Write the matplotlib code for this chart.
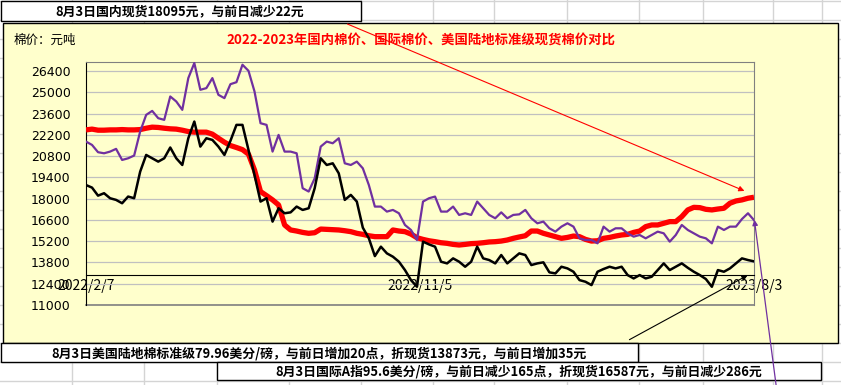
import numpy as np
import matplotlib
matplotlib.use('Agg')
import matplotlib.pyplot as plt
from matplotlib.patches import Rectangle

plt.rcParams['font.family'] = ['Noto Sans CJK SC', 'DejaVu Sans']

# 国际棉价 (A指折现货), 元/吨
intl = [21760, 21540, 21060, 20990, 21100, 21280, 20550, 20660, 20840, 22420,
        23520, 23780, 23300, 23190, 24730, 24400, 23850, 25940, 26930, 25170,
        25280, 25940, 24840,
        24620, 25540, 25670, 26820, 26420, 25060, 22970, 22860, 21100, 22200,
        21100, 21100, 20990, 18690, 18470, 19340, 21430, 21760, 21650, 21980,
        20330, 20220,
        20440, 20000, 18900, 17480, 17480, 17150, 17260, 17040, 16270, 15940,
        15280, 17810, 18030, 18140, 17150, 17150, 17480, 16930, 17040, 16930,
        17810, 17370, 16930,
        16710, 17100, 16710, 16930, 16970, 17260, 16710, 16380, 16490, 16050,
        15830, 16160, 16380, 16160, 15390, 15280, 15280, 15060, 16160, 15830,
        16050, 16050, 15720,
        15500, 15610, 15390, 15610, 15830, 15720, 15170, 15610, 16270, 15940,
        15720, 15500, 15390, 15060, 16160, 15940, 16160, 16160, 16660, 17040,
        16587]

# 国内现货棉价, 元/吨
domestic = [22530, 22580, 22510, 22510, 22530, 22530, 22550, 22530, 22530, 22550,
            22640, 22710, 22690, 22640, 22600, 22580, 22510, 22420, 22380, 22380,
            22380, 22250, 21980,
            21720, 21500, 21370, 21230, 20930, 19890, 18470, 18200, 17920, 17590,
            16270, 15940, 15870, 15780, 15720, 15760, 16000, 15980, 15960, 15940,
            15890, 15830,
            15720, 15650, 15560, 15500, 15500, 15500, 15940, 15870, 15830, 15670,
            15430, 15320, 15230, 15170, 15100, 15060, 14990, 14950, 14990, 15040,
            15060, 15100, 15150,
            15170, 15210, 15280, 15390, 15480, 15560, 15870, 15870, 15720, 15610,
            15500, 15390, 15450, 15540, 15500, 15320, 15210, 15230, 15390, 15450,
            15540, 15610, 15650,
            15780, 15870, 16160, 16270, 16270, 16380, 16490, 16490, 16820, 17260,
            17430, 17410, 17300, 17260, 17320, 17370, 17700, 17850, 17920, 18030,
            18095]

# 美国陆地棉标准级折现货, 元/吨
us = [18900, 18730, 18200, 18360, 18030, 17920, 17700, 18140, 18030, 19780,
      20880, 20660, 20440, 20660, 21370, 20660, 20220, 21980, 23080, 21430,
      21980, 21870, 21430,
      20880, 21810, 22860, 22860, 21210, 19560, 17810, 18030, 16490, 17370,
      17040, 17100, 17480, 17260, 17370, 18690, 20660, 20220, 20330, 19670,
      17920, 18250,
      17810, 16090, 15390, 14220, 14840, 14400, 14180, 13850, 13300, 12640,
      12200, 15170, 14990, 14840, 13850, 13740, 14070, 13850, 13520, 13850,
      14840, 14070, 13960,
      13740, 14290, 13740, 14070, 14400, 14290, 13630, 13740, 13810, 13150,
      13080, 13520, 13410, 13190, 12640, 12530, 12310, 13190, 13370, 13520,
      13410, 13520, 12970,
      12750, 12970, 12750, 12860, 13300, 13740, 13300, 13520, 13740, 13450,
      13190, 12970, 12710, 12200, 13300, 13190, 13410, 13740, 14070, 13960,
      13873]

xlabels = ['2022/2/7', '2022/11/5', '2023/8/3']
yticks = list(range(11000, 26401, 1400))

title = '2022-2023年国内棉价、国际棉价、美国陆地标准级现货棉价对比'
note_top = '8月3日国内现货18095元，与前日减少22元'
note_us = '8月3日美国陆地棉标准级79.96美分/磅，与前日增加20点，折现货13873元，与前日增加35元'
note_intl = '8月3日国际A指95.6美分/磅，与前日减少165点，折现货16587元，与前日减少286元'

W, H = 841, 385
fig = plt.figure(figsize=(W / 100, H / 100), dpi=100)

# sheet background, chart area
bg = fig.add_axes([0, 0, 1, 1], zorder=0)
bg.set_xlim(0, W)
bg.set_ylim(H, 0)
bg.axis('off')
for y in range(1, H, 19):
    bg.axhline(y, color='#d4d4d4', lw=1, zorder=1)
for x in [72, 144, 217, 289, 361, 433, 494, 567, 639, 703, 773, 822]:
    bg.axvline(x, color='#d4d4d4', lw=1, zorder=1)
bg.add_patch(Rectangle((3, 23), 835, 320, facecolor='#ffffcc', edgecolor='black',
                       lw=1, zorder=5))

# plot area
ax = fig.add_axes([86 / W, 1 - 305 / H, 668 / W, 243 / H], zorder=1)
ax.set_facecolor('none')
n = len(domestic)
x = np.arange(n)
ax.plot(x, domestic, color='#ff0000', lw=3.8, zorder=3, solid_capstyle='butt')
ax.plot(x, intl, color='#7030a0', lw=1.6, zorder=4)
ax.plot(x, us, color='black', lw=1.8, zorder=5)
ax.set_xlim(0, n - 1)
ax.set_ylim(11000, 27000)
ax.set_yticks(yticks)
ax.set_yticklabels([str(v) for v in yticks], fontsize=9, family='DejaVu Sans')
ax.set_xticks([0, (n - 1) / 2, n - 1])
ax.set_xticklabels(xlabels, fontsize=9, color='#404040', family='DejaVu Sans')
ax.tick_params(axis='y', length=0, pad=11)
ax.tick_params(axis='x', length=0, pad=3)
ax.yaxis.grid(True, color='#c0c0c0', lw=0.9)
ax.set_axisbelow(True)
ax.spines['bottom'].set_position(('data', 13000))
ax.spines['bottom'].set_color('black')
ax.spines['left'].set_color('black')
ax.spines['top'].set_color('#808080')
ax.spines['right'].set_color('#808080')
ax.axhline(11000, color='#808080', lw=1.2, clip_on=False)

# overlay: texts, boxes, arrows
ov = fig.add_axes([0, 0, 1, 1], zorder=3)
ov.set_xlim(0, W)
ov.set_ylim(H, 0)
ov.axis('off')
ov.patch.set_alpha(0)

ov.text(14, 40, '棉价：元吨', fontsize=9, va='center', ha='left')
ov.text(421, 40, title, fontsize=9.6, color='red', fontweight='bold', va='center', ha='center')

ov.add_patch(Rectangle((1, 1), 360, 20, facecolor='white', edgecolor='black', lw=1))
ov.text(180, 11.5, note_top, fontsize=9.3, fontweight='bold', ha='center', va='center')
ov.add_patch(Rectangle((1, 343), 637, 19, facecolor='white', edgecolor='black', lw=1))
ov.text(319, 353, note_us, fontsize=9.3, fontweight='bold', ha='center', va='center')
ov.add_patch(Rectangle((217, 362), 604, 18, facecolor='white', edgecolor='black', lw=1))
ov.text(519, 371.5, note_intl, fontsize=9.3, fontweight='bold', ha='center', va='center')

ov.annotate('', xy=(747, 192), xytext=(345, 23),
            arrowprops=dict(arrowstyle='-|>', color='red', lw=0.8, mutation_scale=8))
ov.annotate('', xy=(754, 217), xytext=(777, 392),
            arrowprops=dict(arrowstyle='-|>', color='#7030a0', lw=0.9, mutation_scale=8))
ov.annotate('', xy=(750, 274), xytext=(627, 341),
            arrowprops=dict(arrowstyle='-|>', color='black', lw=0.8, mutation_scale=8))

fig.savefig('out.png', dpi=100)
